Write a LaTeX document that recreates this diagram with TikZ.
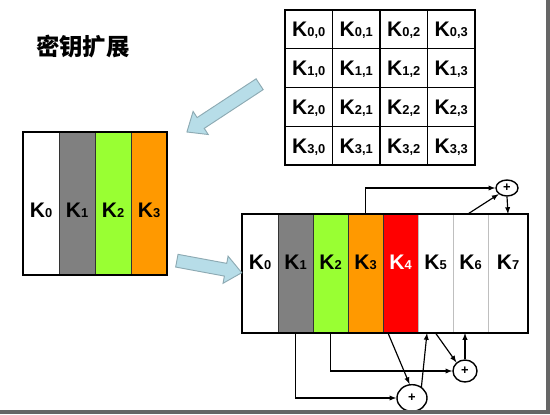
\documentclass[tikz,border=0pt]{standalone}
\usepackage{fontspec}
\newfontfamily\arial{Liberation Sans}
\newfontfamily\cjk{Noto Sans CJK SC}
\usetikzlibrary{positioning,shapes.geometric,shapes.arrows}
\definecolor{keygray}{HTML}{808080}
\definecolor{keygreen}{HTML}{99FF33}
\definecolor{keyorange}{HTML}{FF9900}
\definecolor{keyred}{HTML}{FF0000}
\definecolor{arrowblue}{HTML}{B7DDE8}
\definecolor{arrowedge}{HTML}{8DAAB3}
\definecolor{framegray}{HTML}{666666}
\newcommand{\kk}[1]{K{\fontsize{11}{11}\selectfont #1}}
\tikzset{
  keytext/.style={font=\arial\bfseries\fontsize{18}{18}\selectfont},
  mcell/.style={keytext, draw, line width=1.2pt, minimum width=1.425cm, minimum height=1.1625cm,
    inner sep=0pt, outer sep=0pt, text height=0.45cm, text depth=0pt},
  lcell/.style={keytext, draw=black!80, line width=0.8pt, minimum width=1.08cm, minimum height=4.29cm,
    inner sep=0pt, outer sep=0pt, text height=0.83cm, text depth=0pt},
  rcell/.style={keytext, draw=black!80, line width=0.8pt, minimum width=1.05cm, minimum height=3.57cm,
    inner sep=0pt, outer sep=0pt, text height=0.46cm, text depth=0.68cm},
  xor/.style={ellipse, draw, line width=1.2pt, inner sep=0pt, font=\arial\bfseries\fontsize{11}{11}\selectfont},
  blockarrow/.style={single arrow, draw=arrowedge, fill=arrowblue, line width=0.8pt, inner xsep=0pt,
    inner ysep=0.18cm, single arrow head extend=0.22cm, single arrow tip angle=80}
}
\begin{document}
\begin{tikzpicture}[x=0.03cm, y=-0.03cm, >=latex]
    \useasboundingbox (0,0) rectangle (550,415);
    \node[font=\cjk\bfseries\fontsize{20}{20}\selectfont] (title) at (83,47) {密钥扩展};

    % key matrix
    \node[mcell] (m00) at (308.75,29.4) {\kk{0,0}};
    \node[mcell, right=0pt of m00] (m01) {\kk{0,1}};
    \node[mcell, right=0pt of m01] (m02) {\kk{0,2}};
    \node[mcell, right=0pt of m02] (m03) {\kk{0,3}};
    \node[mcell, below=0pt of m00] (m10) {\kk{1,0}};
    \node[mcell, right=0pt of m10] (m11) {\kk{1,1}};
    \node[mcell, right=0pt of m11] (m12) {\kk{1,2}};
    \node[mcell, right=0pt of m12] (m13) {\kk{1,3}};
    \node[mcell, below=0pt of m10] (m20) {\kk{2,0}};
    \node[mcell, right=0pt of m20] (m21) {\kk{2,1}};
    \node[mcell, right=0pt of m21] (m22) {\kk{2,2}};
    \node[mcell, right=0pt of m22] (m23) {\kk{2,3}};
    \node[mcell, below=0pt of m20] (m30) {\kk{3,0}};
    \node[mcell, right=0pt of m30] (m31) {\kk{3,1}};
    \node[mcell, right=0pt of m31] (m32) {\kk{3,2}};
    \node[mcell, right=0pt of m32] (m33) {\kk{3,3}};

    % initial key
    \node[lcell] (l0) at (41,203.5) {\kk{0}};
    \node[lcell, fill=keygray, right=0pt of l0] (l1) {\kk{1}};
    \node[lcell, fill=keygreen, right=0pt of l1] (l2) {\kk{2}};
    \node[lcell, fill=keyorange, right=0pt of l2] (l3) {\kk{3}};
    \draw[line width=1.2pt] (l0.north west) rectangle (l3.south east);

    % expanded key
    \node[rcell, minimum width=1.08cm] (r0) at (260,273.5) {\kk{0}};
    \node[rcell, fill=keygray, right=0pt of r0] (r1) {\kk{1}};
    \node[rcell, fill=keygreen, right=0pt of r1] (r2) {\kk{2}};
    \node[rcell, fill=keyorange, right=0pt of r2] (r3) {\kk{3}};
    \node[rcell, fill=keyred, text=white, right=0pt of r3] (r4) {\kk{4}};
    \node[rcell, draw=black!25, right=0pt of r4] (r5) {\kk{5}};
    \node[rcell, draw=black!25, right=0pt of r5] (r6) {\kk{6}};
    \node[rcell, draw=black!25, minimum width=1.2cm, right=0pt of r6] (r7) {\kk{7}};
    \draw[line width=1.2pt] (r0.north west) rectangle (r7.south east);

    \node[blockarrow, minimum height=2.61cm, rotate=213.3] (shrink) at (226.5,106) {};
    \node[blockarrow, minimum height=1.98cm, rotate=-10.5] (grow) at (205.5,266) {};

    \node[xor, minimum width=0.66cm, minimum height=0.48cm] (xa) at (507,188) {+};
    \node[xor, minimum width=0.72cm, minimum height=0.66cm] (xb) at (465,371) {+};
    \node[xor, minimum width=0.9cm, minimum height=0.8cm] (xc) at (412,398) {+};

    \path[->, line width=1pt, every edge/.style={draw}]
    (r3.north) edge[to path={|- (\tikztotarget)}] (xa.west)
    ([xshift=-0.08cm]r6.north) edge (xa.south west)
    (xa.south) edge (r7.north)
    ;
    \path[->, line width=1pt, every edge/.style={draw}]
    (r1.south) edge[to path={|- (\tikztotarget)}] (xc.west)
    (r2.south) edge[to path={|- (\tikztotarget)}] (xb.west)
    ([xshift=-0.375cm]r4.south) edge (xc.100)
    (xc.50) edge ([xshift=-0.255cm]r5.south)
    (r5.south) edge (xb.135)
    (xb.north) edge (xb.north |- r6.south)
    ;

    \draw[framegray, line width=0.12cm] (547.5,0) -- (547.5,412) -- (0,412);
    \end{tikzpicture}
\end{document}
